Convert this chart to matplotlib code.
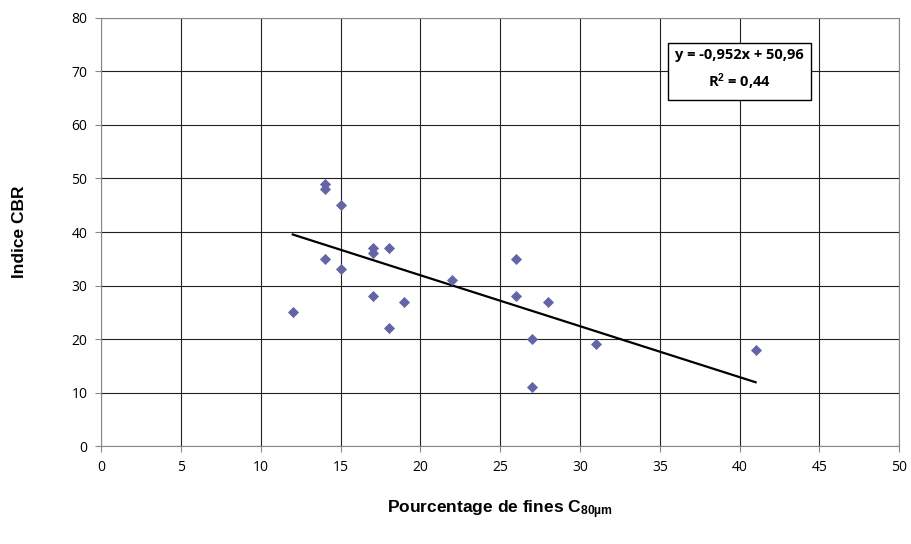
import numpy as np
import matplotlib
matplotlib.use('Agg')
from matplotlib import pyplot as plt

# Data
fines = [12, 14, 14, 14, 15, 15, 17, 17, 17, 18, 18, 19, 22, 26, 26, 27, 27, 28, 31, 41]
cbr = [25, 49, 48, 35, 45, 33, 37, 36, 28, 37, 22, 27, 31, 35, 28, 20, 11, 27, 19, 18]

slope, intercept = -0.952, 50.96
r2 = 0.44

plt.rcParams['font.family'] = ['Liberation Sans', 'DejaVu Sans']
plt.rcParams['mathtext.fontset'] = 'custom'
plt.rcParams['mathtext.rm'] = 'Liberation Sans'
plt.rcParams['mathtext.bf'] = 'Liberation Sans:bold'

fig = plt.figure(figsize=(9.12, 5.44), dpi=100)
ax = fig.add_axes([0.111, 0.180, 0.875, 0.787])

ax.scatter(fines, cbr, marker='D', s=32, color='#6464a6', zorder=3, linewidths=0)

xs = np.array([min(fines), max(fines)])
ax.plot(xs, slope*xs + intercept, color='black', lw=1.6, zorder=2)

ax.set(xlim=(0, 50), ylim=(0, 80))
ax.set_xticks(np.arange(0, 51, 5))
ax.set_yticks(np.arange(0, 81, 10))
ax.grid(True, color='#222222', lw=0.8)
ax.set_axisbelow(True)
for s in ax.spines.values():
    s.set_color('#888888')
    s.set_linewidth(0.8)
ax.tick_params(direction='out', length=4, color='#888888', labelsize=10, pad=6)
for lab in ax.get_xticklabels() + ax.get_yticklabels():
    lab.set_family(['Open Sans', 'DejaVu Sans'])

ax.set_ylabel('Indice CBR', fontsize=12.5, fontweight='bold', labelpad=32)
ax.set_xlabel(r'Pourcentage de fines $\mathbf{C_{80µm}}$', fontsize=12.5,
              fontweight='bold', labelpad=17)

eq = f'y = {slope:.3f}x + {intercept:.2f}'.replace('.', ',')
r2txt = r'R$\mathbf{^2}$ = ' + f'{r2:.2f}'.replace('.', ',')
ax.text(40.0, 70.2, eq + '\n' + r2txt, ha='center', va='center', fontsize=10.5,
        fontweight='bold', linespacing=1.6, family=['Open Sans', 'DejaVu Sans'],
        bbox=dict(boxstyle='square,pad=0.5', fc='white', ec='black', lw=1.0),
        zorder=4)

fig.savefig('out.png', dpi=100)
